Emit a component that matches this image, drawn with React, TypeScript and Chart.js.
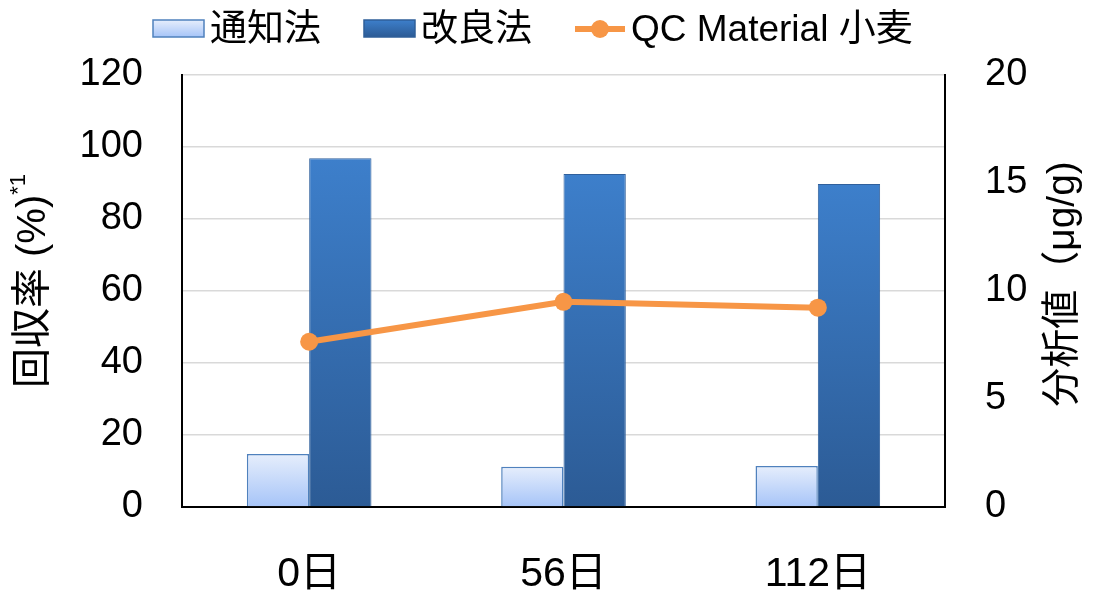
import React, { useEffect, useRef } from 'react';
import { Chart, registerables } from 'chart.js';

Chart.register(...registerables);

const FONT = "'Liberation Sans', Arial, 'Noto Sans CJK JP', sans-serif";

const categories = ['0日', '56日', '112日'];
const seriesNames = ['通知法', '改良法', 'QC Material 小麦'];
const tsuchiValues = [14.7, 11.2, 11.4];
const kairyoValues = [96.9, 92.5, 89.7];
const qcValues = [7.65, 9.5, 9.23];
const leftAxisMax = 120;
const leftAxisStep = 20;
const rightAxisMax = 20;
const rightAxisStep = 5;
const leftTitle = '回収率 (%)';
const leftTitleSup = '*1';
const rightTitle = '分析値（μg/g)';

const LIGHT_TOP = '#e6eefc';
const LIGHT_BOTTOM = '#a6c4f8';
const DARK_TOP = '#3d7fcb';
const DARK_BOTTOM = '#2c5b95';
const ORANGE = '#f79646';

const grad = (top: string, bottom: string) => (c: any) => {
  const chart = c.chart;
  const ys = chart.scales && chart.scales.y;
  if (!ys || c.raw == null || typeof c.raw !== 'number') return bottom;
  const yTop = ys.getPixelForValue(c.raw);
  const yBase = ys.getPixelForValue(0);
  if (!isFinite(yTop) || !isFinite(yBase) || yTop === yBase) return bottom;
  const g = chart.ctx.createLinearGradient(0, yTop, 0, yBase);
  g.addColorStop(0, top);
  g.addColorStop(1, bottom);
  return g;
};

const decorPlugin = {
  id: 'decor',
  afterDraw(chart: any) {
    const ctx = chart.ctx as CanvasRenderingContext2D;
    ctx.save();
    // Legend
    let x = 153;
    const cy = 29;
    ctx.font = `37px ${FONT}`;
    ctx.textBaseline = 'middle';
    ctx.textAlign = 'left';
    chart.data.datasets.forEach((ds: any, i: number) => {
      let symW = 51;
      if (ds.type === 'line') {
        symW = 50;
        ctx.strokeStyle = ORANGE;
        ctx.lineWidth = 6;
        ctx.beginPath();
        ctx.moveTo(x, cy);
        ctx.lineTo(x + symW, cy);
        ctx.stroke();
        ctx.fillStyle = ORANGE;
        ctx.beginPath();
        ctx.arc(x + symW / 2, cy, 9, 0, Math.PI * 2);
        ctx.fill();
      } else {
        const top = i === 0 ? LIGHT_TOP : DARK_TOP;
        const bottom = i === 0 ? LIGHT_BOTTOM : DARK_BOTTOM;
        const g = ctx.createLinearGradient(0, 20, 0, 37);
        g.addColorStop(0, top);
        g.addColorStop(1, bottom);
        ctx.fillStyle = g;
        ctx.fillRect(x, 20, symW, 17);
        ctx.strokeStyle = i === 0 ? '#4f81bd' : '#2f5f99';
        ctx.lineWidth = 1.5;
        ctx.strokeRect(x, 20, symW, 17);
      }
      const tx = x + symW + 6;
      ctx.fillStyle = '#000';
      ctx.fillText(ds.label, tx, cy + 2);
      const tw = ctx.measureText(ds.label).width;
      x = tx + tw + 43;
    });

    // Left title with superscript
    ctx.save();
    ctx.translate(34, 281);
    ctx.rotate(-Math.PI / 2);
    ctx.font = `40px ${FONT}`;
    const wm = ctx.measureText(leftTitle).width;
    ctx.font = `22px ${FONT}`;
    const ws = ctx.measureText(leftTitleSup).width;
    const start = -(wm + ws) / 2;
    ctx.textBaseline = 'middle';
    ctx.fillStyle = '#000';
    ctx.font = `40px ${FONT}`;
    ctx.fillText(leftTitle, start, 0);
    ctx.font = `22px ${FONT}`;
    ctx.fillText(leftTitleSup, start + wm, -15);
    ctx.restore();

    // Right title
    ctx.save();
    ctx.translate(1063, 284);
    ctx.rotate(-Math.PI / 2);
    ctx.font = `39px ${FONT}`;
    ctx.textBaseline = 'middle';
    ctx.textAlign = 'center';
    ctx.fillStyle = '#000';
    ctx.fillText(rightTitle, 0, 0);
    ctx.restore();

    ctx.restore();
  },
};

export default function App() {
  const ref = useRef<HTMLCanvasElement | null>(null);
  useEffect(() => {
    if (!ref.current) return;
    Chart.defaults.font.family = FONT;
    const chart = new Chart(ref.current, {
      type: 'bar',
      data: {
        labels: categories,
        datasets: [
          {
            type: 'bar',
            label: seriesNames[0],
            data: tsuchiValues,
            yAxisID: 'y',
            backgroundColor: grad(LIGHT_TOP, LIGHT_BOTTOM),
            borderColor: '#4f81bd',
            borderWidth: 1.5,
            categoryPercentage: 0.49,
            barPercentage: 1,
            order: 1,
          } as any,
          {
            type: 'bar',
            label: seriesNames[1],
            data: kairyoValues,
            yAxisID: 'y',
            backgroundColor: grad(DARK_TOP, DARK_BOTTOM),
            borderColor: '#30609c',
            borderWidth: 1,
            categoryPercentage: 0.49,
            barPercentage: 1,
            order: 1,
          } as any,
          {
            type: 'line',
            label: seriesNames[2],
            data: qcValues,
            yAxisID: 'y1',
            borderColor: ORANGE,
            backgroundColor: ORANGE,
            borderWidth: 6,
            pointRadius: 9,
            pointBackgroundColor: ORANGE,
            pointBorderWidth: 0,
            tension: 0,
            order: 0,
          } as any,
        ],
      },
      options: {
        animation: false,
        responsive: true,
        maintainAspectRatio: false,
        layout: { padding: { top: 75, left: 0, right: 0, bottom: 0 } },
        plugins: {
          legend: { display: false },
          tooltip: { enabled: false },
        },
        scales: {
          x: {
            offset: true,
            grid: { display: false, drawTicks: false },
            border: { display: true, color: '#000', width: 2 },
            ticks: { font: { size: 41, family: FONT }, color: '#000', padding: 43 },
            afterFit: (s: any) => {
              s.height = 88;
            },
          },
          y: {
            position: 'left',
            min: 0,
            max: leftAxisMax,
            ticks: { stepSize: leftAxisStep, font: { size: 38, family: FONT }, color: '#000', padding: 39 },
            grid: {
              color: (c: any) => (c.tick && c.tick.value === 0 ? 'rgba(0,0,0,0)' : '#d9d9d9'),
              lineWidth: 1.5,
              drawTicks: false,
            },
            border: { display: true, color: '#000', width: 2 },
            afterFit: (s: any) => {
              s.width = 182;
            },
          },
          y1: {
            position: 'right',
            min: 0,
            max: rightAxisMax,
            ticks: { stepSize: rightAxisStep, font: { size: 38, family: FONT }, color: '#000', padding: 40 },
            grid: { display: false, drawTicks: false },
            border: { display: true, color: '#000', width: 2 },
            afterFit: (s: any) => {
              s.width = 151;
            },
          },
        },
      } as any,
      plugins: [decorPlugin],
    });
    return () => chart.destroy();
  }, []);
  return (
    <div style={{ position: 'fixed', left: 0, top: 0, width: 1096, height: 595, background: '#fff' }}>
      <canvas ref={ref} />
    </div>
  );
}
